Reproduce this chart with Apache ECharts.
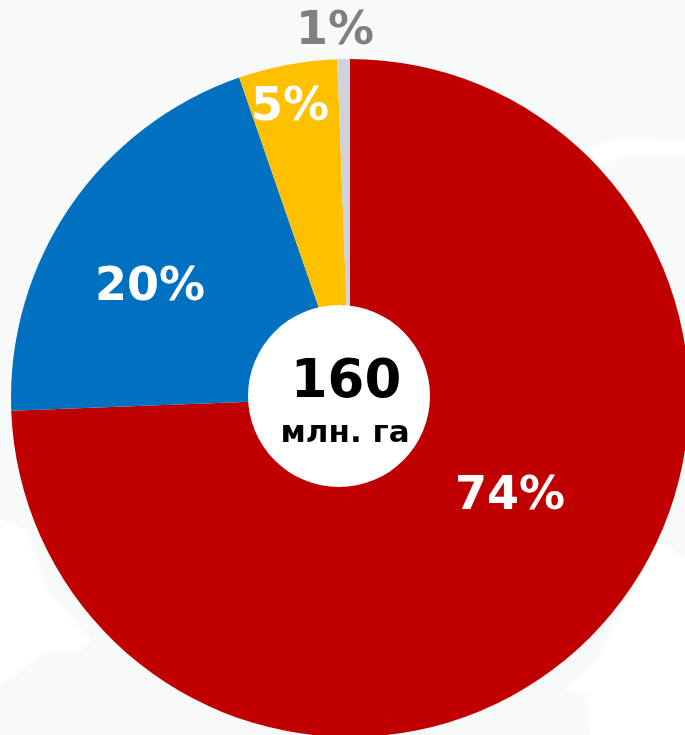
<!DOCTYPE html>
<html><head><meta charset="utf-8">
<style>html,body{margin:0;padding:0;background:#f9fbfb}#c{width:685px;height:735px}</style>
<script src="https://cdn.jsdelivr.net/npm/echarts@6/dist/echarts.min.js"></script>
</head><body><div id="c"></div>
<script>
const categories = ['A','B','C','D'];
const shares = [74.4, 20.3, 4.7, 0.6];
const colors = ['#c00000','#0070c0','#ffc000','#cfd2da'];
const labelColors = ['#ffffff','#ffffff','#ffffff','#808080'];
const total = '160';
const unit = 'млн. га';
const labelAnchors = [[510,497],[150,288],[290,108],[335,32]];
const chart = echarts.init(document.getElementById('c'), null, {renderer:'canvas'});
const soft = {fill:'#ffffff', shadowBlur:6, shadowColor:'#ffffff'};
chart.setOption({
  animation:false,
  backgroundColor:'#f8faf9',
  series:[{
    type:'pie', center:[350,398], radius:[0,339], startAngle:90, clockwise:true,
    silent:true, avoidLabelOverlap:false,
    data:categories.map((n,i)=>({name:n,value:shares[i],
      itemStyle:{color:colors[i]},
      label:{color:labelColors[i]}})),
    label:{show:true,position:'inside',
      formatter:p=>Math.round(p.value)+'%',
      fontFamily:'DejaVu Sans',fontWeight:'bold',fontSize:46},
    labelLine:{show:false},
    labelLayout:p=>({x:labelAnchors[p.dataIndex][0],y:labelAnchors[p.dataIndex][1],align:'center',verticalAlign:'middle'})
  }],
  graphic:[
    {type:'polygon',z:-1,shape:{points:[[0,520],[25,530],[45,590],[90,640],[80,650],[45,650],[15,675],[0,682]]},style:soft},
    {type:'polygon',z:-1,shape:{points:[[590,150],[620,138],[685,143],[685,155],[625,155],[600,165]]},style:soft},
    {type:'polygon',z:-1,shape:{points:[[658,543],[685,558],[685,735],[590,735],[588,692],[565,690],[600,660]]},style:soft},
    {type:'circle',z:10,shape:{cx:339,cy:396,r:91},style:{fill:'#ffffff'}},
    {type:'text',z:11,x:346,y:383,style:{text:total,fill:'#000',font:'bold 53px "DejaVu Sans"',align:'center',verticalAlign:'middle'}},
    {type:'text',z:11,x:345,y:434,style:{text:unit,fill:'#000',font:'bold 31px "DejaVu Sans"',align:'center',verticalAlign:'middle'}}
  ]
});
</script></body></html>
